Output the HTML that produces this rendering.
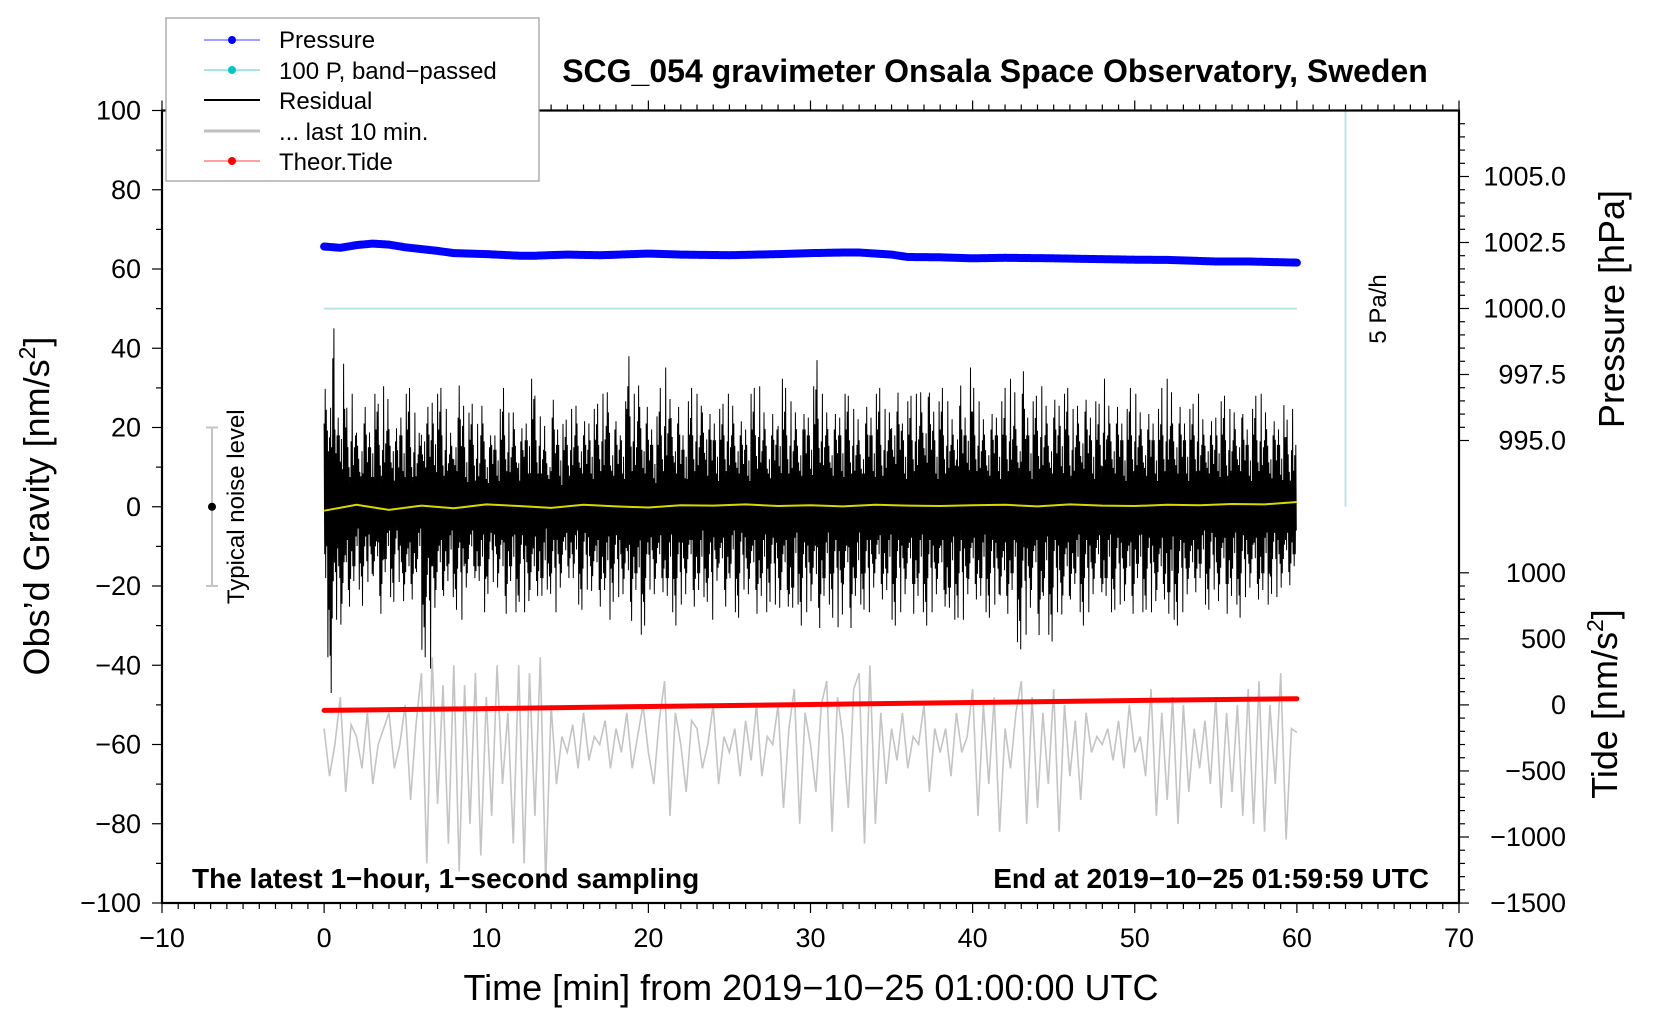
<!DOCTYPE html>
<html><head><meta charset="utf-8">
<style>
html,body{margin:0;padding:0;background:#fff;}
svg{display:block;font-family:"Liberation Sans",sans-serif;}
</style></head>
<body>
<svg id="chart" width="1660" height="1020" viewBox="0 0 1660 1020" xmlns="http://www.w3.org/2000/svg">
<g id="plot"></g>
</svg>
<script>
// ---------------- data ----------------
const residualHi = [35,50,30,38,25,30,22,28,25,30,26,32,28,22,30,30,25,22,33,28,35,30,26,22,30,34,25,26,22,30,
20,24,26,30,25,28,22,28,34,28,24,20,30,26,22,26,30,28,24,28,26,30,34,26,24,28,38,30,36,28,
26,24,30,37,32,28,24,28,30,30,34,26,28,26,30,30,28,24,26,30,32,28,24,26,34,30,28,28,26,30,
32,37,30,28,26,30,30,28,26,24,28,30,30,26,28,36,32,28,28,30,34,37,32,28,30,28,26,34,30,37,
30,28,26,26,30,28,30,34,28,38,30,28,32,30,28,30,34,30,26,30,32,30,28,26,34,30,28,28,26,30,
30,28,26,28,26,30,34,30,28,28,26,30,26,28,24,30,28,26,28,30,26,26,28,30,28,24,26,27,22,26];
const residualLo = [-40,-47,-30,-35,-28,-25,-22,-25,-20,-25,-30,-22,-24,-20,-28,-30,-26,-22,-38,-43,-30,-28,-25,-24,-26,-30,-24,-20,-25,-28,
-22,-20,-24,-30,-25,-28,-24,-28,-30,-25,-30,-22,-28,-24,-22,-20,-24,-26,-22,-25,-28,-28,-30,-24,-24,-26,-32,-28,-34,-30,
-22,-26,-24,-30,-28,-30,-26,-24,-28,-28,-24,-30,-22,-26,-28,-24,-28,-22,-26,-28,-30,-28,-24,-26,-30,-28,-34,-26,-30,-28,
-28,-34,-30,-26,-28,-32,-28,-34,-30,-26,-28,-24,-24,-26,-28,-30,-28,-26,-26,-30,-28,-30,-28,-26,-28,-34,-30,-28,-30,-26,
-26,-30,-28,-28,-26,-32,-30,-28,-36,-34,-30,-28,-36,-30,-34,-28,-32,-30,-26,-28,-30,-28,-26,-24,-30,-28,-26,-26,-28,-30,
-24,-28,-26,-28,-30,-26,-36,-30,-28,-26,-28,-24,-24,-26,-22,-28,-26,-30,-26,-28,-24,-24,-26,-28,-26,-22,-24,-24,-22,-20];
const meanRes = [-1,0.5,-0.8,0.3,-0.4,0.6,0.2,-0.3,0.5,0.1,-0.2,0.4,0.3,0.6,0.2,0.4,0.1,0.5,0.3,0.2,0.4,0.5,0.1,0.6,0.3,0.2,0.5,0.4,0.7,0.6,1.2];
const lastTen = [-56,-68,-60,-48,-72,-55,-58,-66,-52,-70,-60,-56,-52,-66,-60,-50,-74,-55,-42,-90,-38,-75,-45,-85,-40,-92,-45,-80,-42,-88,
-48,-78,-40,-70,-52,-85,-40,-90,-42,-78,-38,-95,-50,-70,-58,-62,-55,-66,-52,-64,-58,-60,-54,-66,-56,-62,-52,-66,-58,-50,
-62,-70,-54,-44,-78,-52,-60,-72,-54,-56,-66,-60,-50,-70,-58,-62,-56,-68,-54,-64,-50,-68,-58,-60,-50,-76,-56,-46,-80,-52,
-60,-72,-50,-44,-82,-48,-58,-76,-46,-42,-85,-40,-80,-52,-70,-56,-64,-52,-66,-58,-60,-50,-72,-56,-62,-56,-68,-52,-62,-58,
-46,-78,-50,-70,-48,-82,-56,-66,-52,-44,-80,-48,-76,-52,-70,-46,-82,-50,-68,-54,-74,-52,-62,-58,-60,-56,-64,-54,-66,-50,
-62,-58,-68,-46,-78,-52,-74,-48,-80,-50,-72,-56,-66,-54,-70,-48,-76,-52,-72,-50,-78,-46,-80,-44,-82,-50,-70,-42,-84,-56,-57];
const pressTime = [0,1,2,3,4,5,6,7,8,10,12,13,15,17,20,22,25,28,30,32,33,35,36,38,40,42,45,47,50,52,55,57,60];
const pressure = [1002.35,1002.3,1002.4,1002.46,1002.42,1002.32,1002.25,1002.18,1002.1,1002.06,1002.0,1002.0,1002.04,1002.02,1002.08,1002.04,1002.02,1002.06,1002.1,1002.12,1002.12,1002.04,1001.95,1001.94,1001.9,1001.92,1001.9,1001.88,1001.85,1001.84,1001.78,1001.78,1001.74];
const tideTime = [0,10,20,30,40,50,60];
const tide = [-42,-28,-12,3,18,33,47];
const xTicks = [-10,0,10,20,30,40,50,60,70];
const yTicks = [100,80,60,40,20,0,-20,-40,-60,-80,-100];
const pTicks = ["1005.0","1002.5","1000.0","997.5","995.0"];
const tTicks = [1000,500,0,-500,-1000,-1500];

// ---------------- axes ----------------
const X0=162,X1=1459,Y0=110.5,Y1=903;
const xs = v => X0 + (v+10)/80*(X1-X0);
const ys = v => Y1 - (v+100)/200*(Y1-Y0);
const ps = v => 308.5 - (v-1000)*26.4;
const ts = v => 704.9 - v*0.1321;

const NS="http://www.w3.org/2000/svg";
const g=document.getElementById('plot');
function mk(tag,attrs,parent){const e=document.createElementNS(NS,tag);for(const k in attrs)e.setAttribute(k,attrs[k]);(parent||g).appendChild(e);return e;}
function txt(s,attrs){const e=mk('text',attrs);e.textContent=s;return e;}

let e;
e=mk('line',{x1:xs(0),x2:xs(60),y1:ys(50),y2:ys(50),stroke:'#b8e4e4','stroke-width':2});


e=mk('line',{x1:xs(63),x2:xs(63),y1:Y0,y2:ys(0),stroke:'#b8e4e4','stroke-width':2});



// gray last 10 min
let pts=lastTen.map((v,i)=>xs(i*60/(lastTen.length-1)).toFixed(1)+','+ys(v).toFixed(1)).join(' ');
e=mk('polyline',{points:pts,fill:'none',stroke:'#c4c4c4','stroke-width':1.6});



// residual: each bin drawn as oscillation bounded by its hi/lo envelope
const nb=residualHi.length;
const shape=[0.6,0.3,0.85,0.45,0.7,0.25,0.55,0.95,0.4,0.65,0.35,0.8,0.5,1,0.3,0.6,0.75,0.4,0.9,0.3,0.65,0.55,0.45,0.95,0.6,0.35,0.75,0.5,0.6];
const SUB=10;
let rp=[];
for(let i=0;i<nb;i++){
  for(let k=0;k<SUB;k++){
    const x=xs((i+k/SUB)*60/nb);
    const f=shape[(i*SUB+k)%shape.length];
    const v=(k%2===0?residualHi[i]:residualLo[i])*f;
    rp.push(x.toFixed(1)+','+ys(v).toFixed(1));
  }
}
e=mk('polyline',{points:rp.join(' '),fill:'none',stroke:'#000','stroke-width':1});



// mean residual (yellow)
pts=meanRes.map((v,i)=>xs(i*2).toFixed(1)+','+ys(v).toFixed(1)).join(' ');
e=mk('polyline',{points:pts,fill:'none',stroke:'#d8d800','stroke-width':2});



// pressure
pts=pressure.map((v,i)=>xs(pressTime[i]).toFixed(1)+','+ps(v).toFixed(1)).join(' ');
e=mk('polyline',{points:pts,fill:'none',stroke:'#0000ff','stroke-width':8,'stroke-linejoin':'round','stroke-linecap':'round','stroke-dasharray':'3 1'});



// tide
pts=tide.map((v,i)=>xs(tideTime[i]).toFixed(1)+','+ts(v).toFixed(1)).join(' ');
e=mk('polyline',{points:pts,fill:'none',stroke:'#ff0000','stroke-width':5,'stroke-linecap':'round'});



// noise level bar
e=mk('line',{x1:212,x2:212,y1:ys(20),y2:ys(-20),stroke:'#c4c4c4','stroke-width':2});


mk('line',{x1:206,x2:218,y1:ys(20),y2:ys(20),stroke:'#c4c4c4','stroke-width':2});
mk('line',{x1:206,x2:218,y1:ys(-20),y2:ys(-20),stroke:'#c4c4c4','stroke-width':2});
mk('circle',{cx:212,cy:ys(0),r:4,fill:'#000'});
e=txt('Typical noise level',{x:0,y:0,transform:'translate(244,'+ys(0)+') rotate(-90)','text-anchor':'middle','font-size':24});


e=txt('5 Pa/h',{x:0,y:0,transform:'translate(1386,309) rotate(-90)','text-anchor':'middle','font-size':24});



// frame
e=mk('rect',{x:X0,y:Y0,width:X1-X0,height:Y1-Y0,fill:'none',stroke:'#000','stroke-width':2.2});



for(let m=-10;m<=70;m++){const x=xs(m);const major=m%10===0;
  mk('line',{x1:x,x2:x,y1:Y1,y2:Y1+(major?10:6),stroke:'#000','stroke-width':1.2});
  mk('line',{x1:x,x2:x,y1:Y0,y2:Y0-(major?10:6),stroke:'#000','stroke-width':1.2});}
xTicks.forEach(v=>{e=txt(String(v).replace('-','\u2212'),{x:xs(v),y:947,'text-anchor':'middle','font-size':27});

});
for(let v=-100;v<=100;v+=10){const y=ys(v);const major=v%20===0;
  mk('line',{x1:X0,x2:X0-(major?10:6),y1:y,y2:y,stroke:'#000','stroke-width':1.2});}
yTicks.forEach(v=>{e=txt(String(v).replace('-','\u2212'),{x:141,y:ys(v)+9,'text-anchor':'end','font-size':27});

});
for(let k=0;k<=24;k++){const v=1007 - k*0.5; const y=ps(v); if(y<Y0||y>ps(995))continue;
  const major=Math.abs(((v*2)%5))<0.01; mk('line',{x1:X1,x2:X1+(major?10:6),y1:y,y2:y,stroke:'#000','stroke-width':1.2});}
pTicks.forEach(s=>{e=txt(s,{x:1566,y:ps(parseFloat(s))+9,'text-anchor':'end','font-size':27});

});
for(let v=-1500;v<=1000;v+=100){const y=ts(v);const major=v%500===0;
  mk('line',{x1:X1,x2:X1+(major?10:6),y1:y,y2:y,stroke:'#000','stroke-width':1.2});}
tTicks.forEach(v=>{e=txt(String(v).replace('-','\u2212'),{x:1566,y:ts(v)+9,'text-anchor':'end','font-size':27});

});
</script>
<script>
const svg=document.getElementById('chart');
svg.insertAdjacentHTML('beforeend',`
<text x="995" y="82" text-anchor="middle" font-size="32" font-weight="bold">SCG_054 gravimeter Onsala Space Observatory, Sweden</text>
<text x="811" y="1000" text-anchor="middle" font-size="36">Time [min] from 2019−10−25 01:00:00 UTC</text>
<text transform="translate(49,506) rotate(-90)" text-anchor="middle" font-size="36">Obs’d Gravity [nm/s<tspan font-size="23" dy="-14">2</tspan><tspan dy="14">]</tspan></text>
<text transform="translate(1624,309) rotate(-90)" text-anchor="middle" font-size="36">Pressure [hPa]</text>
<text transform="translate(1617,704) rotate(-90)" text-anchor="middle" font-size="36">Tide [nm/s<tspan font-size="23" dy="-14">2</tspan><tspan dy="14">]</tspan></text>
<text x="192" y="888" font-size="28" font-weight="bold">The latest 1−hour, 1−second sampling</text>
<text x="1429" y="888" text-anchor="end" font-size="28" font-weight="bold">End at 2019−10−25 01:59:59 UTC</text>
<g>
<rect x="166" y="18" width="373" height="163" fill="#fff" stroke="#999" stroke-width="1.2"/>
<line x1="204" x2="260" y1="40" y2="40" stroke="#4040ff" stroke-width="1"/><circle cx="232" cy="40" r="4" fill="#0000ff"/>
<text x="279" y="48" font-size="24">Pressure</text>
<line x1="204" x2="260" y1="70" y2="70" stroke="#40d0d0" stroke-width="1"/><circle cx="232" cy="70" r="4" fill="#00c8c8"/>
<text x="279" y="79" font-size="24">100 P, band−passed</text>
<line x1="204" x2="260" y1="100" y2="100" stroke="#000" stroke-width="2"/>
<text x="279" y="109" font-size="24">Residual</text>
<line x1="204" x2="260" y1="131" y2="131" stroke="#c0c0c0" stroke-width="3"/>
<text x="279" y="140" font-size="24">... last 10 min.</text>
<line x1="204" x2="260" y1="161" y2="161" stroke="#ff4040" stroke-width="1"/><circle cx="232" cy="161" r="4" fill="#ff0000"/>
<text x="279" y="170" font-size="24">Theor.Tide</text>
</g>`);
</script>
</body></html>
